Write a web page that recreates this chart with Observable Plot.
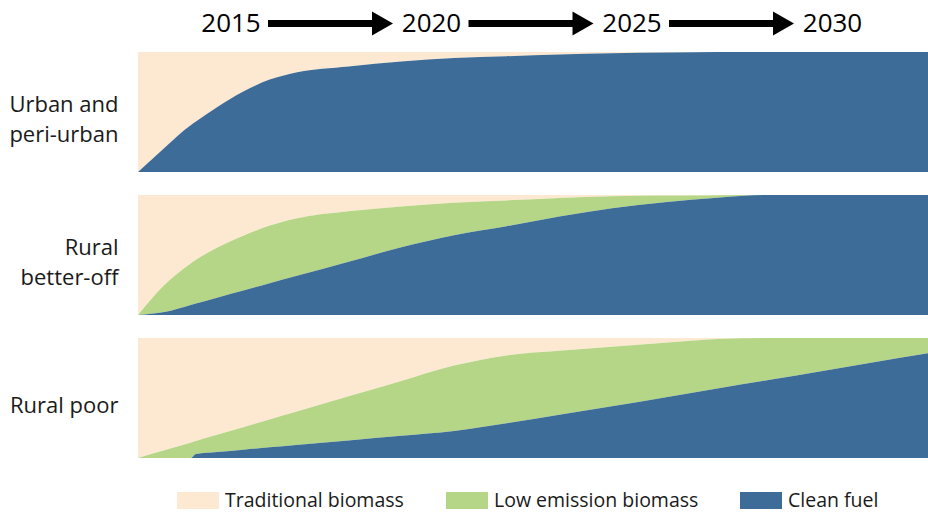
<!DOCTYPE html>
<html><head><meta charset="utf-8">
<script src="https://cdn.jsdelivr.net/npm/d3@7"></script>
<script src="https://cdn.jsdelivr.net/npm/@observablehq/plot@0.6"></script>
<style>
html,body{margin:0;padding:0;background:#fff;}
body{width:928px;height:513px;position:relative;overflow:hidden;font-family:"Open Sans",sans-serif;color:#1a1a1a;}
#header,#chart{display:block;line-height:0;}
#legend{position:absolute;top:492px;left:0;width:928px;height:21px;}
.item{position:absolute;top:0;display:flex;align-items:flex-start;}
.sw{width:42px;height:17px;flex:none;}
.lab{font-size:19.5px;line-height:17px;margin-left:6px;position:relative;top:-1px;white-space:nowrap;}
</style></head><body>
<div id="header"></div><div id="chart"></div><div id="legend"></div>
<script>
// ---- data ----
const years = [2015, 2015.5, 2016, 2016.1, 2016.5, 2017, 2017.5, 2018, 2019, 2020, 2021, 2022, 2023, 2024, 2025, 2026, 2027, 2028, 2029, 2030];
const regions = ["Urban and peri-urban", "Rural better-off", "Rural poor"];
const regionLabels = ["Urban and\nperi-urban", "Rural\nbetter-off", "Rural poor"];
const seriesNames = ["Traditional biomass", "Low emission biomass", "Clean fuel"];
const seriesColors = ["#fde9d2", "#b5d687", "#3e6c98"];
const headerYears = ["2015", "2020", "2025", "2030"];

// shares of households (fractions) by year
const urbanClean       = [0, 0.2, 0.39, 0.42, 0.54, 0.67, 0.77, 0.83, 0.88, 0.92, 0.95, 0.965, 0.98, 0.99, 0.995, 1, 1, 1, 1, 1];
const urbanLow         = [0, 0, 0, 0, 0, 0, 0, 0, 0, 0, 0, 0, 0, 0, 0, 0, 0, 0, 0, 0];
const urbanTraditional = [1, 0.8, 0.61, 0.58, 0.46, 0.33, 0.23, 0.17, 0.12, 0.08, 0.05, 0.035, 0.02, 0.01, 0.005, 0, 0, 0, 0, 0];

const betterClean       = [0, 0.024, 0.084, 0.096, 0.144, 0.204, 0.264, 0.324, 0.444, 0.564, 0.665, 0.74, 0.82, 0.89, 0.94, 0.978, 1, 1, 1, 1];
const betterLow         = [0, 0.226, 0.346, 0.364, 0.416, 0.456, 0.481, 0.481, 0.421, 0.341, 0.27, 0.215, 0.155, 0.10, 0.055, 0.02, 0, 0, 0, 0];
const betterTraditional = [1, 0.75, 0.57, 0.54, 0.44, 0.34, 0.255, 0.195, 0.135, 0.095, 0.065, 0.045, 0.025, 0.01, 0.005, 0.002, 0, 0, 0, 0];

const poorClean       = [0, 0, 0, 0.034, 0.05, 0.069, 0.089, 0.108, 0.146, 0.185, 0.225, 0.29, 0.36, 0.432, 0.505, 0.579, 0.652, 0.726, 0.80, 0.873];
const poorLow         = [0, 0.064, 0.128, 0.107, 0.143, 0.188, 0.232, 0.277, 0.368, 0.457, 0.545, 0.565, 0.533, 0.496, 0.455, 0.413, 0.348, 0.274, 0.20, 0.127];
const poorTraditional = [1, 0.936, 0.872, 0.859, 0.807, 0.743, 0.679, 0.615, 0.486, 0.358, 0.23, 0.145, 0.107, 0.072, 0.04, 0.008, 0, 0, 0, 0];

// ---- table built from the arrays ----
const table = {
  "Urban and peri-urban": [urbanTraditional, urbanLow, urbanClean],
  "Rural better-off": [betterTraditional, betterLow, betterClean],
  "Rural poor": [poorTraditional, poorLow, poorClean]
};
const rows = [];
for (const region of regions) {
  table[region].forEach((vals, s) => {
    vals.forEach((v, i) => rows.push({region, series: seriesNames[s], year: years[i], share: v}));
  });
}

const font = "'Open Sans', sans-serif";

// ---- header: years with arrows ----
const header = Plot.plot({
  width: 928, height: 46, margin: 0,
  style: {fontFamily: font, background: "transparent"},
  x: {domain: [0, 3], range: [230.5, 832], axis: null},
  y: {domain: [0, 1], range: [46, 0], axis: null},
  marks: [
    Plot.ruleY(headerYears.slice(1), {x1: (d, i) => i, x2: (d, i) => i + 1, y: 0.5, stroke: "#000", strokeWidth: 7, insetLeft: 37.5, insetRight: 57}),
    Plot.dot(headerYears.slice(1), {x: (d, i) => i + 1, y: 0.5, dx: -52.5, symbol: "triangle", rotate: 90, r: 9, fill: "#000", stroke: "none"}),
    Plot.text(headerYears, {x: (d, i) => i, y: 0.5, text: d => d, fontSize: 26, fill: "#000"})
  ]
});
document.getElementById("header").append(header);

// ---- main stacked areas, one facet per region ----
const chart = Plot.plot({
  width: 928, height: 424,
  marginTop: 6, marginBottom: 12, marginLeft: 138, marginRight: 0,
  style: {fontFamily: font, background: "transparent"},
  x: {domain: [2015, 2030], axis: null},
  y: {domain: [0, 1], axis: null},
  fy: {domain: regions, axis: null, paddingInner: 0.164, paddingOuter: 0},
  color: {domain: seriesNames, range: seriesColors},
  marks: [
    Plot.areaY(rows, {
      x: "year", y: "share", z: "series", fill: "series", fy: "region",
      order: ["Clean fuel", "Low emission biomass", "Traditional biomass"],
      curve: "monotone-x"
    }),
    Plot.text(regions, {
      fy: d => d, text: (d, i) => regionLabels[i],
      frameAnchor: "left", textAnchor: "end", dx: -20, dy: 5,
      fontSize: 22, lineHeight: 1.35, fill: "#1a1a1a"
    })
  ]
});
document.getElementById("chart").append(chart);

// ---- legend ----
const legend = document.getElementById("legend");
const lefts = [177, 446, 740];
seriesNames.forEach((name, i) => {
  const item = document.createElement("div");
  item.className = "item";
  item.style.left = lefts[i] + "px";
  const sw = document.createElement("div");
  sw.className = "sw";
  sw.style.background = seriesColors[i];
  const lab = document.createElement("span");
  lab.className = "lab";
  lab.textContent = name;
  item.append(sw, lab);
  legend.append(item);
});
</script>
</body></html>
